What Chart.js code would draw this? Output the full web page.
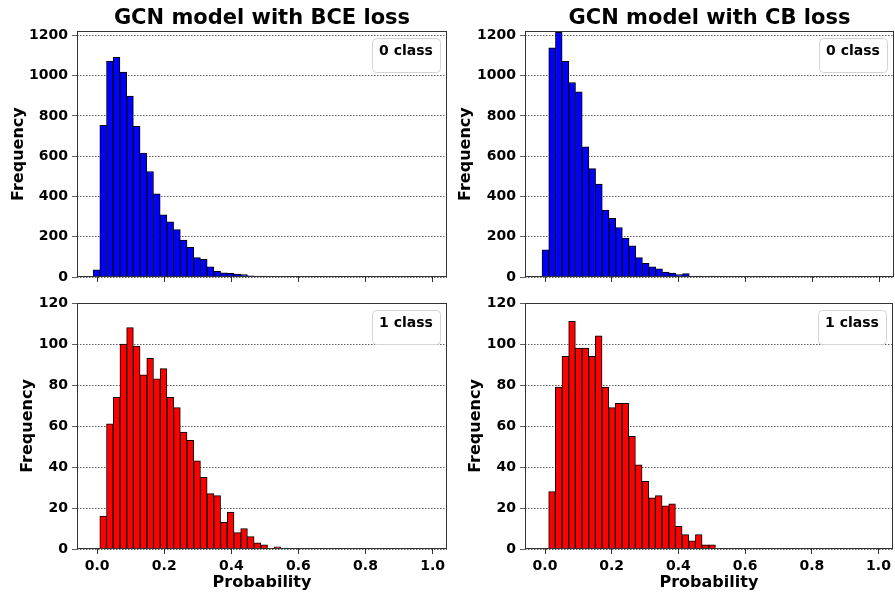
<!DOCTYPE html>
<html>
<head>
<meta charset="utf-8">
<script src="https://cdn.jsdelivr.net/npm/chart.js@4.4.0/dist/chart.umd.min.js"></script>
<style>
  html, body { margin: 0; padding: 0; background: #fff; }
  #wrap { position: relative; width: 895px; height: 593px; }
  #wrap canvas { position: absolute; left: 0; top: 0; }
</style>
</head>
<body>
<div id="wrap">
  <canvas id="bce0" width="895" height="593"></canvas>
  <canvas id="bce1" width="895" height="593"></canvas>
  <canvas id="cb0" width="895" height="593"></canvas>
  <canvas id="cb1" width="895" height="593"></canvas>
</div>
<script>
// bin centres (the two columns use slightly shifted bin edges)
let binsBCE = [-0.002, 0.018, 0.038, 0.058, 0.078, 0.098, 0.118, 0.138, 0.158, 0.178,
  0.198, 0.218, 0.238, 0.258, 0.278, 0.298, 0.318, 0.338, 0.358, 0.378,
  0.398, 0.418, 0.438, 0.458, 0.478, 0.498, 0.518, 0.538]
let binsCB = [0.001, 0.021, 0.041, 0.061, 0.081, 0.101, 0.121, 0.141, 0.161, 0.181,
  0.201, 0.221, 0.241, 0.261, 0.281, 0.301, 0.321, 0.341, 0.361, 0.381,
  0.401, 0.421, 0.441, 0.461, 0.481, 0.501]

// frequencies
let bceClass0 = [35, 754, 1073, 1091, 1018, 899, 749, 615, 524, 413, 309, 274, 235, 183, 147,
  96, 88, 50, 28, 21, 18, 15, 12, 6, 5, 5, 3, 2]
let bceClass1 = [0, 16, 61, 74, 100, 108, 99, 85, 93, 83, 88, 74, 69, 57, 53, 43, 35, 27, 26,
  13, 18, 8, 10, 6, 3, 2, 0, 1]
let cbClass0 = [135, 1138, 1217, 1071, 966, 920, 646, 538, 462, 332, 292, 246, 193, 155, 96,
  68, 50, 40, 25, 20, 12, 17, 0, 4, 0, 4]
let cbClass1 = [0, 28, 79, 94, 111, 98, 98, 94, 104, 79, 69, 71, 71, 55, 41, 33, 25, 26, 21,
  22, 11, 7, 4, 7, 2, 2]

let titles = ["GCN model with BCE loss", "GCN model with CB loss"]
let classLabels = ["0 class", "1 class"]
let xTicks = [0, 0.2, 0.4, 0.6, 0.8, 1.0]
let yTicksTop = [0, 200, 400, 600, 800, 1000, 1200]
let yTicksBottom = [0, 20, 40, 60, 80, 100, 120]

Chart.defaults.font.family = "'DejaVu Sans', sans-serif"
Chart.defaults.font.weight = 'bold'
Chart.defaults.color = '#000'

// frame round the plot area + the little "n class" box
const panelDeco = {
  id: 'panelDeco',
  afterDraw(chart, args, opts) {
    const ctx = chart.ctx
    const a = chart.chartArea
    ctx.save()
    ctx.strokeStyle = '#333'
    ctx.lineWidth = 1
    ctx.strokeRect(Math.round(a.left) + 0.5, Math.round(a.top) + 0.5,
      Math.round(a.right - a.left) - 1, Math.round(a.bottom - a.top) - 1)

    let w = 68, h = 34
    let x = Math.round(a.right - 7 - w), y = Math.round(a.top + 7)
    ctx.beginPath()
    ctx.roundRect(x + 0.5, y + 0.5, w, h, 4)
    ctx.fillStyle = 'rgba(255,255,255,0.85)'
    ctx.fill()
    ctx.strokeStyle = '#d4d4d4'
    ctx.stroke()
    ctx.fillStyle = '#000'
    ctx.font = "bold 14px 'DejaVu Sans'"
    ctx.textAlign = 'center'
    ctx.textBaseline = 'middle'
    ctx.fillText(opts.text, x + w / 2, y + 13)
    ctx.restore()
  }
}

function makeHist(id, o) {
  return new Chart(document.getElementById(id), {
    type: 'bar',
    data: {
      datasets: [{
        data: o.bins.map((b, i) => ({ x: b, y: o.counts[i] })),
        backgroundColor: o.color,
        borderColor: '#000',
        borderWidth: 1,
        borderSkipped: false,
        barPercentage: 1,
        categoryPercentage: 1
      }]
    },
    options: {
      responsive: false,
      animation: false,
      devicePixelRatio: 1,
      layout: { padding: o.pad },
      plugins: {
        legend: { display: false },
        tooltip: { enabled: false },
        title: {
          display: o.title != null,
          text: o.title,
          fullSize: false,
          font: { size: 21, weight: 'bold' },
          padding: { top: 0, bottom: 0 }
        },
        panelDeco: { text: o.label }
      },
      scales: {
        x: {
          type: 'linear',
          min: -0.06,
          max: 1.043,
          offset: false,
          afterBuildTicks: s => { s.ticks = xTicks.map(v => ({ value: v })) },
          afterFit: s => { s.height = o.xh },
          border: { display: false },
          grid: { offset: false, drawOnChartArea: false, drawTicks: true, tickLength: 5, tickColor: '#333' },
          ticks: {
            autoSkip: false,
            maxRotation: 0,
            padding: 4,
            font: { size: 14 },
            callback: v => o.xLabels ? v.toFixed(1) : ''
          },
          title: {
            display: o.xLabels,
            text: 'Probability',
            font: { size: 16, weight: 'bold' },
            padding: { top: 0, bottom: 1 }
          }
        },
        y: {
          min: 0,
          max: o.ymax,
          afterBuildTicks: s => { s.ticks = o.yTicks.map(v => ({ value: v })) },
          afterFit: s => { s.width = o.yw },
          border: { display: false, dash: [1.5, 1.5] },
          grid: {
            color: 'rgba(0,0,0,0.8)',
            lineWidth: 0.8,
            tickLength: 5,
            tickColor: '#333',
            tickBorderDash: []
          },
          ticks: { padding: 4, font: { size: 14 }, callback: v => String(v) },
          title: {
            display: true,
            text: 'Frequency',
            font: { size: 16, weight: 'bold' },
            padding: { top: 0, bottom: 0 }
          }
        }
      }
    },
    plugins: [panelDeco]
  })
}

makeHist('bce0', { bins: binsBCE, counts: bceClass0, color: '#0000ff', title: titles[0], label: classLabels[0],
  ymax: 1221, yTicks: yTicksTop, xLabels: false, xh: 6, yw: 68,
  pad: { left: 9, right: 448, top: 6, bottom: 310 } })
makeHist('bce1', { bins: binsBCE, counts: bceClass1, color: '#ff0000', title: null, label: classLabels[1],
  ymax: 120, yTicks: yTicksBottom, xLabels: true, xh: 44, yw: 59,
  pad: { left: 18, right: 448, top: 303, bottom: 0 } })
makeHist('cb0', { bins: binsCB, counts: cbClass0, color: '#0000ff', title: titles[1], label: classLabels[0],
  ymax: 1221, yTicks: yTicksTop, xLabels: false, xh: 6, yw: 69,
  pad: { left: 456, right: 1, top: 6, bottom: 310 } })
makeHist('cb1', { bins: binsCB, counts: cbClass1, color: '#ff0000', title: null, label: classLabels[1],
  ymax: 120, yTicks: yTicksBottom, xLabels: true, xh: 44, yw: 59,
  pad: { left: 466, right: 1, top: 303, bottom: 0 } })
</script>
</body>
</html>
